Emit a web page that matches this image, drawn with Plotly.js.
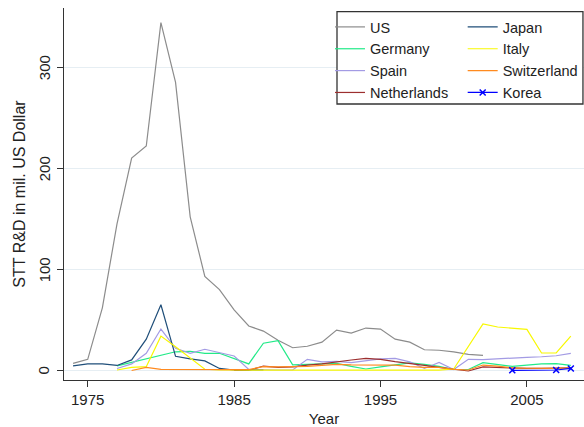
<!DOCTYPE html>
<html>
<head>
<meta charset="utf-8">
<script src="https://cdn.plot.ly/plotly-3.0.1.min.js"></script>
<style>html,body{margin:0;padding:0;background:#fff;}</style>
</head>
<body>
<div id="chart" style="width:584px;height:427px;"></div>
<script>
// ---- data ----
const usYears = [1974,1975,1976,1977,1978,1979,1980,1981,1982,1983,1984,1985,1986,1987,1988,1989,1990,1991,1992,1993,1994,1995,1996,1997,1998,1999,2000,2001,2002];
const usVals  = [7,11,62,145,210,222,344,285,152,93,80,60,44,39,30,22.5,24,28,40,37,42,41,31,28,20.5,20,18.5,16,15];

const germanyYears = [1977,1981,1982,1983,1984,1985,1986,1987,1988,1989,1990,1991,1992,1993,1994,1995,1996,1997,1998,1999,2000,2001,2002,2003,2004,2005,2006,2007,2008];
const germanyVals  = [4.5,18.5,19,17,17,12,6.5,27,29.5,5.5,6,6.5,7,4,1.5,3.5,5.5,7.5,6,4,1,1,7.7,6,4,5.4,6.5,6.8,5];

const spainYears = [1977,1978,1979,1980,1981,1982,1983,1984,1985,1986,1987,1988,1989,1990,1991,1992,1993,1994,1995,1996,1997,1998,1999,2000,2001,2002,2003,2004,2005,2006,2007,2008];
const spainVals  = [2,6.5,17,41,22,17,21,18,14.3,1,0.5,0.5,0.5,11,8.5,9,7.7,9.7,11.5,12,8.5,2,8,1,11,10.8,11.7,12.4,13,13.6,14.6,17];

const netherlandsYears = [1985,1986,1987,1988,1989,1990,1991,1992,1993,1994,1995,1996,1997,1998,1999,2000,2001,2002,2003,2004,2005,2006,2007,2008];
const netherlandsVals  = [0,0,4.4,3,3.5,5.4,6.5,8.7,10.4,12,11,8.7,6.5,5,3,1.2,-0.5,3.5,3,2,2,2,2,2.5];

const japanYears = [1974,1975,1976,1977,1978,1979,1980,1981,1982,1983,1984,1985,1986,1987];
const japanVals  = [4.5,6.5,6.5,5,10.5,31,65,14,11.5,9.5,2,0.5,0.5,0.5];

const italyYears = [1977,1978,1979,1980,1981,1982,1983,1984,1985,1986,1987,1988,1989,1990,1991,1992,1993,1994,1995,1996,1997,1998,1999,2000,2002,2003,2004,2005,2006,2007,2008];
const italyVals  = [0.5,3,3.8,34,23.5,12,1.2,0.5,0.3,0.3,0.3,0.3,0.3,0.3,0.3,0.3,0.3,0.3,0.3,0.3,0.3,0.3,0.3,1.5,46,43,42,40.7,17.3,17.3,34];

const switzerlandYears = [1978,1979,1980,1981,1982,1983,1984,1985,1986,1987,1988,1989,1990,1991,1992,1993,1994,1995,1996,1997,1998,1999,2000,2001,2002,2003,2004,2005,2006,2007,2008];
const switzerlandVals  = [0,3,1.2,1,1,0.8,0.8,0.8,1,3.8,3.5,3.5,4,5,6,5.5,5.4,5.4,5.4,3.8,3,3,1.2,0.5,5.4,4.4,2.5,2.2,2,2,2.5];

const koreaYears = [2004,2007,2008];
const koreaVals  = [0.2,0.5,2];

const xTicks = [1975,1985,1995,2005];
const yTicks = [0,100,200,300];

const FONT = 'Arial, "Liberation Sans", sans-serif';

function line(name, x, y, color, legend) {
  return {type:'scatter', mode:'lines', name:name, x:x, y:y,
          line:{color:color, width:1.2}, legend:legend};
}

const traces = [
  line('US', usYears, usVals, '#8c8c8c', 'legend'),
  line('Germany', germanyYears, germanyVals, '#22ea88', 'legend'),
  line('Spain', spainYears, spainVals, '#a39be4', 'legend'),
  line('Netherlands', netherlandsYears, netherlandsVals, '#9c2f2f', 'legend'),
  line('Japan', japanYears, japanVals, '#1f4e79', 'legend2'),
  line('Italy', italyYears, italyVals, '#f8f800', 'legend2'),
  line('Switzerland', switzerlandYears, switzerlandVals, '#ff8a1f', 'legend2'),
  {type:'scatter', mode:'lines+markers', name:'Korea', x:koreaYears, y:koreaVals,
   line:{color:'#0000ff', width:1.2},
   marker:{symbol:'x-thin', size:6, line:{color:'#0000ff', width:1.5}, color:'#0000ff'},
   legend:'legend2'}
];

const legendCommon = {
  orientation:'v', yanchor:'top', xanchor:'left', bgcolor:'rgba(0,0,0,0)',
  borderwidth:0, font:{family:FONT, size:14.5, color:'#222'}, itemwidth:30
};

// rotated y tick labels (Stata style), placed on the y scale
const yTickLabels = yTicks.map(v => ({
  text:String(v), xref:'paper', yref:'y', x:-0.0385, y:v,
  textangle:-90, showarrow:false, xanchor:'center', yanchor:'middle',
  font:{family:FONT, size:15, color:'#222'}
}));

const layout = {
  width:584, height:427,
  margin:{l:64, r:0, t:8, b:47},
  paper_bgcolor:'#fff', plot_bgcolor:'#fff',
  font:{family:FONT, size:15, color:'#222'},
  showlegend:true,
  xaxis:{
    range:[1973.38, 2008.9], tickvals:xTicks, ticktext:xTicks.map(String),
    ticks:'outside', ticklen:6, tickwidth:1, tickcolor:'#333',
    showline:true, linecolor:'#333', linewidth:1.3, showgrid:false, zeroline:false,
    tickfont:{family:FONT, size:15, color:'#222'},
    title:{text:'Year', font:{family:FONT, size:15, color:'#222'}, standoff:6}
  },
  yaxis:{
    range:[-9.4, 358.5], tickvals:yTicks, showticklabels:false,
    ticks:'outside', ticklen:6, tickwidth:1, tickcolor:'#333',
    showline:true, linecolor:'#333', linewidth:1.3,
    showgrid:true, gridcolor:'#e6eef3', gridwidth:1, zeroline:false,
    title:{text:'STT R&amp;D in mil. US Dollar', font:{family:FONT, size:16, color:'#222'}, standoff:27}
  },
  annotations: yTickLabels,
  legend:Object.assign({}, legendCommon, {x:0.5115, y:0.992}),
  legend2:Object.assign({}, legendCommon, {x:0.7667, y:0.992}),
  shapes:[{type:'rect', xref:'paper', yref:'paper', x0:0.525, x1:0.998, y0:0.742, y1:0.990,
           line:{color:'#333', width:1.3}, fillcolor:'#fff', layer:'above'}]
};

Plotly.newPlot('chart', traces, layout, {displayModeBar:false, staticPlot:true});
</script>
</body>
</html>
